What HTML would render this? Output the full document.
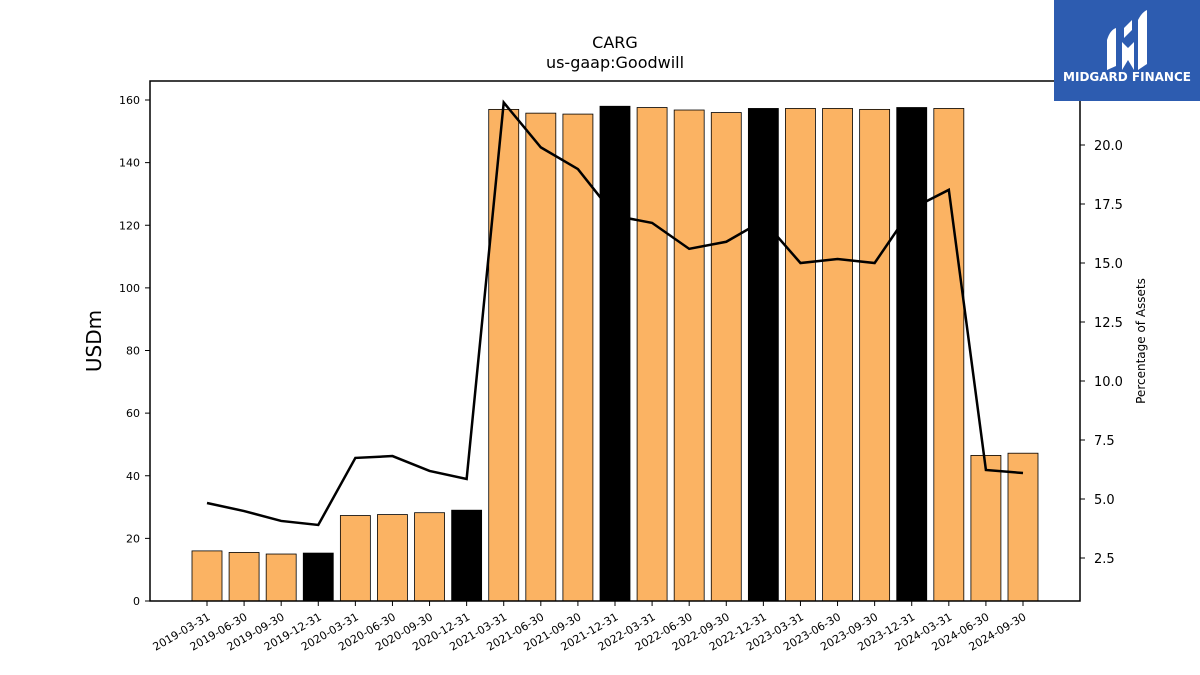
<!DOCTYPE html>
<html><head><meta charset="utf-8"><style>
body{margin:0;background:#fff;}
svg{display:block;font-family:"DejaVu Sans","Liberation Sans",sans-serif;}
</style></head><body>
<svg id="chart" width="1200" height="675" xmlns="http://www.w3.org/2000/svg">
<text x="615" y="48" text-anchor="middle" font-size="16">CARG</text>
<text x="615" y="68" text-anchor="middle" font-size="16">us-gaap:Goodwill</text>
<text transform="translate(101,341) rotate(-90)" text-anchor="middle" font-size="20">USDm</text>
<text transform="translate(1145,341) rotate(-90)" text-anchor="middle" font-size="12">Percentage of Assets</text>
<g id="bars"></g><g id="line"></g><g id="axes"></g>
<g>
<rect x="1054" y="0" width="146" height="101" fill="#2d5cb0"/>
<path d="M1107 70 L1107 40 Q1110 30 1116 28 L1116 66 Z M1122 70 L1122 42 L1128 48 L1134 42 L1134 70 L1128 60 Z M1124 38 L1124 28 L1132 20 L1132 30 Z M1138 70 L1138 20 Q1142 12 1147 10 L1147 64 Z" fill="#fff"/>
<text x="1127" y="81" text-anchor="middle" font-size="12" font-weight="bold" fill="#fff">MIDGARD FINANCE</text>
</g>
</svg>
<script>
const categories=["2019-03-31","2019-06-30","2019-09-30","2019-12-31","2020-03-31","2020-06-30","2020-09-30","2020-12-31","2021-03-31","2021-06-30","2021-09-30","2021-12-31","2022-03-31","2022-06-30","2022-09-30","2022-12-31","2023-03-31","2023-06-30","2023-09-30","2023-12-31","2024-03-31","2024-06-30","2024-09-30"];
const goodwill=[16,15.5,15,15.3,27.3,27.6,28.2,29,157,155.8,155.5,158,157.6,156.8,156,157.3,157.3,157.3,157,157.6,157.3,46.5,47.2];
const pctAssets=[4.83,4.49,4.07,3.9,6.74,6.82,6.19,5.85,21.8,19.9,18.98,17.0,16.7,15.6,15.9,16.8,15.0,15.17,15.0,17.3,18.1,6.23,6.1];
const yTicks=[0,20,40,60,80,100,120,140,160];
const y2Ticks=[2.5,5.0,7.5,10.0,12.5,15.0,17.5,20.0];
const ns="http://www.w3.org/2000/svg";
const L=150,R=1080,T=81,B=601;
const x=i=>207+i*(1023-207)/22;
const y=v=>601-v*(501/160);
const y2=v=>558-(v-2.5)*(413/17.5);
function mk(tag,attrs,parent){const e=document.createElementNS(ns,tag);for(const k in attrs)e.setAttribute(k,attrs[k]);parent.appendChild(e);return e;}
const bars=document.getElementById('bars'),line=document.getElementById('line'),axes=document.getElementById('axes');
goodwill.forEach((v,i)=>{
 const q=categories[i].slice(5)==="12-31";
 const r=mk('rect',{x:x(i)-15,y:y(v),width:30,height:B-y(v),fill:q?'#000':'#fbb363',stroke:'#000','stroke-width':0.8},bars);
 
 
});
const p=mk('polyline',{points:pctAssets.map((v,i)=>x(i)+','+y2(v)).join(' '),fill:'none',stroke:'#000','stroke-width':2.5},line);


const frame=mk('rect',{x:L,y:T,width:R-L,height:B-T,fill:'none',stroke:'#000','stroke-width':1.5},axes);


yTicks.forEach(v=>{
 mk('line',{x1:L-5,x2:L,y1:y(v),y2:y(v),stroke:'#000'},axes);
 const t=mk('text',{x:L-10,y:y(v)+4,'text-anchor':'end','font-size':11},axes);t.textContent=v;
 
 
});
y2Ticks.forEach(v=>{
 mk('line',{x1:R,x2:R+5,y1:y2(v),y2:y2(v),stroke:'#000'},axes);
 const t=mk('text',{x:R+14,y:y2(v)+5,'font-size':13},axes);t.textContent=v.toFixed(1);
 
 
});
categories.forEach((c,i)=>{
 mk('line',{x1:x(i),x2:x(i),y1:B,y2:B+5,stroke:'#000'},axes);
 const t=mk('text',{transform:`translate(${x(i)+4},${B+18}) rotate(-30)`,'text-anchor':'end','font-size':11},axes);t.textContent=c;
 
 
});
</script>
</body></html>
